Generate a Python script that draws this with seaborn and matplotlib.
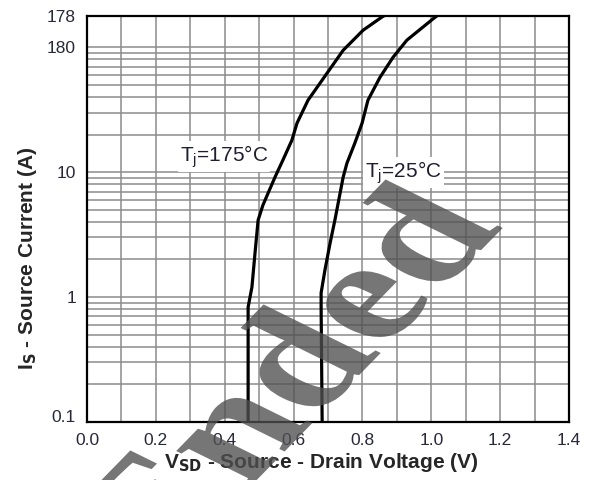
import matplotlib
matplotlib.use("Agg")
import matplotlib.pyplot as plt
import seaborn as sns
import pandas as pd
from matplotlib.ticker import LogLocator, FixedLocator, NullFormatter
from matplotlib.textpath import TextPath
from matplotlib.patches import PathPatch
from matplotlib.font_manager import FontProperties
from matplotlib.transforms import Affine2D

# Source-drain diode forward characteristic
v_175 = [0.468, 0.468, 0.479, 0.488, 0.497, 0.511, 0.546, 0.569, 0.595, 0.610,
         0.642, 0.697, 0.744, 0.802, 0.857, 0.862]
i_175 = [0.1, 0.832, 1.20, 2.25, 4.13, 5.45, 9.12, 12.5, 18.0, 24.7,
         37.7, 61.9, 94.6, 137, 175, 178]
v_25 = [0.683, 0.680, 0.680, 0.691, 0.706, 0.720, 0.744, 0.755, 0.778, 0.799,
        0.816, 0.851, 0.889, 0.929, 1.011, 1.016]
i_25 = [0.1, 0.832, 1.08, 1.64, 2.70, 4.13, 9.12, 11.8, 17.1, 24.7,
        37.7, 57.5, 83.2, 114, 174, 178]

series_names = ["T$_\\mathregular{j}$=175°C", "T$_\\mathregular{j}$=25°C"]

x_ticks = [0.0, 0.2, 0.4, 0.6, 0.8, 1.0, 1.2, 1.4]
x_tick_labels = ["0.0", "0.2", "0.4", "0.6", "0.8", "1.0", "1.2", "1.4"]
y_ticks = [0.1, 1, 10, 100, 178]
y_tick_labels = ["0.1", "1", "10", "180", "178"]

df = pd.concat([
    pd.DataFrame({"V": v_175, "I": i_175, "Tj": series_names[0]}),
    pd.DataFrame({"V": v_25, "I": i_25, "Tj": series_names[1]}),
], ignore_index=True)

sns.set_style("white")
plt.rcParams["font.family"] = ["Liberation Sans", "DejaVu Sans"]
plt.rcParams["mathtext.fontset"] = "custom"
plt.rcParams["mathtext.rm"] = "Liberation Sans"

W, H = 591, 480
fig = plt.figure(figsize=(W / 100, H / 100), dpi=100)
ax = fig.add_axes([87 / W, 1 - 422 / H, (569 - 87) / W, (422 - 16) / H])

sns.lineplot(data=df, x="V", y="I", units="Tj", estimator=None, sort=False,
             color="black", linewidth=2.3, legend=False, ax=ax)

ax.set_yscale("log")
ax.set_xlim(0, 1.4)
ax.set_ylim(0.1, 178)

grid_color = "#8c8c8c"
ax.xaxis.set_major_locator(FixedLocator(x_ticks))
ax.xaxis.set_minor_locator(FixedLocator([0.1, 0.3, 0.5, 0.7, 0.9, 1.1, 1.3]))
ax.set_xticklabels(x_tick_labels)
ax.yaxis.set_major_locator(FixedLocator(y_ticks))
ax.set_yticklabels(y_tick_labels)
ax.yaxis.set_minor_locator(LogLocator(base=10, subs=[2, 3, 4, 5, 6, 7, 8, 9], numticks=20))
ax.yaxis.set_minor_formatter(NullFormatter())
ax.grid(True, which="both", color=grid_color, linewidth=1.1)
ax.set_axisbelow(True)
ax.tick_params(which="both", length=0)
ax.tick_params(axis="x", pad=8, labelsize=12.5, labelcolor="#28283a")
ax.tick_params(axis="y", pad=8, labelsize=12.5, labelcolor="#28283a")
for s in ax.spines.values():
    s.set_color("black")
    s.set_linewidth(1.6)
ax.set_xlabel("")
ax.set_ylabel("")

for lab in ax.get_yticklabels():
    if lab.get_text() == "0.1":
        lab.set_va("baseline")

box = dict(facecolor="white", edgecolor="none", pad=1.5)
ax.text(0.398, 13.4, series_names[0], ha="center", va="center",
        fontsize=15, color="#1e1e30", bbox=box, zorder=5)
ax.text(0.919, 10.0, series_names[1], ha="center", va="center",
        fontsize=15, color="#1e1e30", bbox=box, zorder=5)

fig.text(321 / W, 1 - 463 / H, "V$_\\mathbf{SD}$ - Source - Drain Voltage (V)",
         ha="center", va="center", fontsize=15, fontweight="bold")
fig.text(28 / W, 1 - 258 / H, "I$_\\mathbf{S}$ - Source Current (A)",
         rotation=90, ha="center", va="center", fontsize=15, fontweight="bold")

# slanted diagonal stamp across the plot, laid out in pixel units
stamp = TextPath((0, 0), "Ended", size=1,
                 prop=FontProperties(family="Liberation Serif", weight="bold"))
stamp_tf = Affine2D.from_values(122, 125, -160, 79, 165, H - 574)
fig.add_artist(PathPatch(stamp, transform=stamp_tf, facecolor="#505050",
                         edgecolor="none", alpha=0.78, zorder=10))

fig.savefig("out.png", dpi=100, facecolor="white")
